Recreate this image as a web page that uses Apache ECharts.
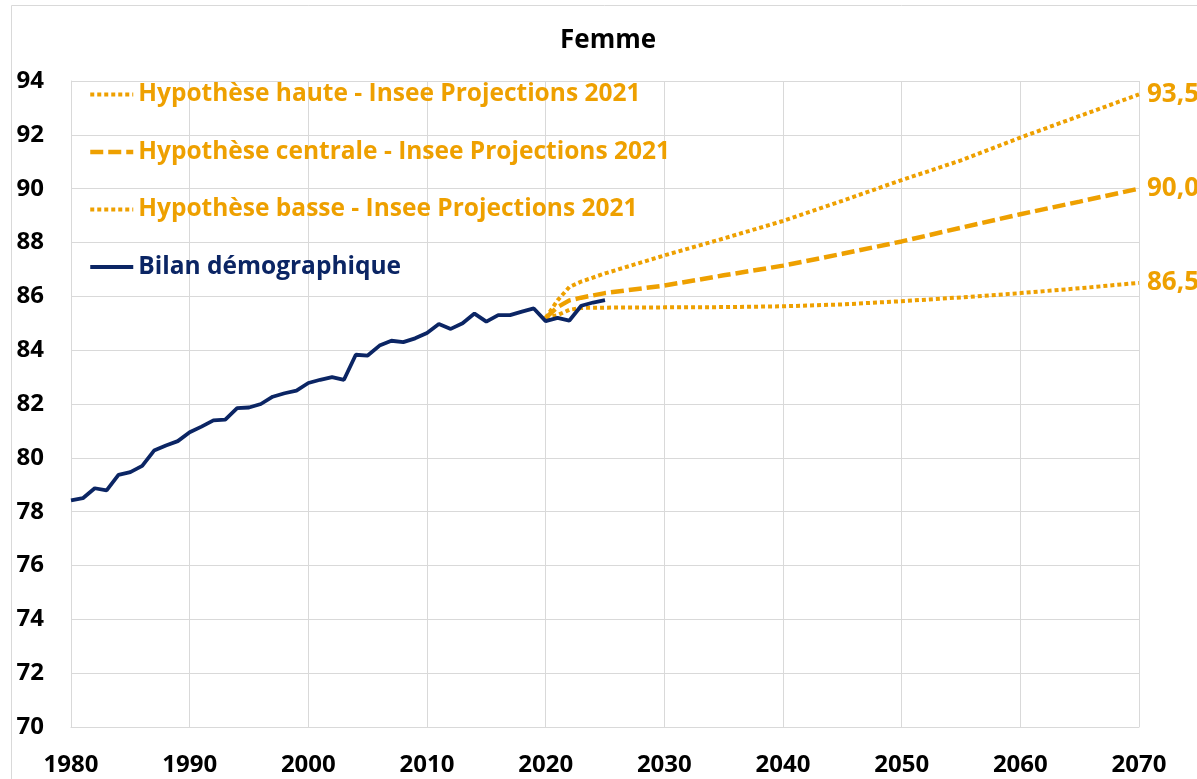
<!DOCTYPE html>
<html>
<head>
<meta charset="utf-8">
<script src="https://cdn.jsdelivr.net/npm/echarts@6/dist/echarts.min.js"></script>
<style>
  html, body { margin: 0; padding: 0; background: #fff; }
  #chart { width: 1197px; height: 779px; }
</style>
</head>
<body>
<div id="chart"></div>
<script>
// bilan démographique (espérance de vie des femmes)
const bilanYears = [1980, 1981, 1982, 1983, 1984, 1985, 1986, 1987, 1988, 1989,
  1990, 1991, 1992, 1993, 1994, 1995, 1996, 1997, 1998, 1999,
  2000, 2001, 2002, 2003, 2004, 2005, 2006, 2007, 2008, 2009,
  2010, 2011, 2012, 2013, 2014, 2015, 2016, 2017, 2018, 2019,
  2020, 2021, 2022, 2023, 2024, 2025];
const bilanValues = [78.42, 78.5, 78.87, 78.79, 79.37, 79.47, 79.7, 80.27, 80.46, 80.62,
  80.95, 81.16, 81.39, 81.42, 81.85, 81.87, 82.0, 82.27, 82.4, 82.5,
  82.78, 82.9, 83.0, 82.9, 83.83, 83.8, 84.17, 84.35, 84.3, 84.44,
  84.64, 84.97, 84.79, 85.0, 85.36, 85.06, 85.3, 85.3, 85.43, 85.55,
  85.08, 85.2, 85.1, 85.65, 85.77, 85.86];

// projections Insee 2021
const projYears = [2020, 2021, 2022, 2023, 2025, 2030, 2035, 2040, 2045, 2050, 2055, 2060, 2065, 2070];
const hauteValues = [85.2, 85.85, 86.35, 86.55, 86.85, 87.52, 88.15, 88.8, 89.55, 90.32, 91.05, 91.9, 92.7, 93.5];
const centraleValues = [85.2, 85.6, 85.85, 85.95, 86.12, 86.4, 86.78, 87.14, 87.58, 88.04, 88.55, 89.05, 89.52, 90.0];
const basseValues = [85.2, 85.3, 85.5, 85.57, 85.58, 85.59, 85.6, 85.63, 85.7, 85.82, 85.96, 86.12, 86.3, 86.5];

const FONT = 'Open Sans';
const ORANGE = '#EEA000';
const BLUE = '#0B2564';

const pairs = (xs, ys) => xs.map((x, i) => [x, ys[i]]);

const endLabel = {
  show: true,
  color: ORANGE,
  fontFamily: FONT,
  fontWeight: 'bold',
  fontSize: 26,
  distance: 8,
  formatter: (p) => p.value[1].toFixed(1).replace('.', ',')
};

const dotted = { color: ORANGE, width: 4, type: [4, 3], cap: 'butt' };
const dashed = { color: ORANGE, width: 4.5, type: [13, 5], cap: 'butt' };
const solid = { color: BLUE, width: 3.8, type: 'solid' };
const noSymbol = { opacity: 0 };

const chart = echarts.init(document.getElementById('chart'));
chart.setOption({
  animation: false,
  title: {
    text: 'Femme',
    left: 555,
    top: 23,
    textStyle: { fontFamily: FONT, fontWeight: 'bold', fontSize: 26, color: '#000' }
  },
  graphic: [{
    type: 'rect',
    shape: { x: 11.5, y: 5.5, width: 1300, height: 900 },
    style: { fill: 'none', stroke: '#d9d9d9', lineWidth: 1 },
    silent: true
  }],
  legend: {
    orient: 'vertical',
    left: 88,
    top: 82,
    padding: 0,
    itemWidth: 43,
    itemHeight: 14,
    itemGap: 32.5,
    itemStyle: noSymbol,
    textStyle: { fontFamily: FONT, fontWeight: 'bold', fontSize: 24.5 },
    data: [
      { name: 'Hypothèse haute - Insee Projections 2021', lineStyle: dotted, itemStyle: noSymbol, textStyle: { color: ORANGE } },
      { name: 'Hypothèse centrale - Insee Projections 2021', lineStyle: dashed, itemStyle: noSymbol, textStyle: { color: ORANGE } },
      { name: 'Hypothèse basse - Insee Projections 2021', lineStyle: dotted, itemStyle: noSymbol, textStyle: { color: ORANGE } },
      { name: 'Bilan démographique', lineStyle: solid, itemStyle: noSymbol, textStyle: { color: BLUE } }
    ]
  },
  grid: { left: 71, right: 58, top: 81, bottom: 52, containLabel: false },
  xAxis: {
    type: 'value',
    min: 1980,
    max: 2070,
    interval: 10,
    axisLine: { show: true, lineStyle: { color: '#d9d9d9' } },
    axisTick: { show: false },
    splitLine: { show: true, lineStyle: { color: '#d9d9d9', width: 1 } },
    axisLabel: {
      margin: 26,
      color: '#000',
      fontFamily: FONT,
      fontWeight: 'bold',
      fontSize: 24,
      formatter: (v) => String(v)
    }
  },
  yAxis: {
    type: 'value',
    min: 70,
    max: 94,
    interval: 2,
    axisLine: { show: true, lineStyle: { color: '#d9d9d9' } },
    axisTick: { show: false },
    splitLine: { show: true, lineStyle: { color: '#d9d9d9', width: 1 } },
    axisLabel: {
      margin: 27,
      color: '#000',
      fontFamily: FONT,
      fontWeight: 'bold',
      fontSize: 24
    }
  },
  series: [
    {
      name: 'Hypothèse haute - Insee Projections 2021',
      type: 'line',
      symbol: 'none',
      data: pairs(projYears, hauteValues),
      lineStyle: dotted,
      itemStyle: { color: ORANGE },
      endLabel: endLabel
    },
    {
      name: 'Hypothèse centrale - Insee Projections 2021',
      type: 'line',
      symbol: 'none',
      data: pairs(projYears, centraleValues),
      lineStyle: dashed,
      itemStyle: { color: ORANGE },
      endLabel: endLabel
    },
    {
      name: 'Hypothèse basse - Insee Projections 2021',
      type: 'line',
      symbol: 'none',
      data: pairs(projYears, basseValues),
      lineStyle: dotted,
      itemStyle: { color: ORANGE },
      endLabel: endLabel
    },
    {
      name: 'Bilan démographique',
      type: 'line',
      symbol: 'none',
      data: pairs(bilanYears, bilanValues),
      lineStyle: solid,
      itemStyle: { color: BLUE }
    }
  ]
});
</script>
</body>
</html>
